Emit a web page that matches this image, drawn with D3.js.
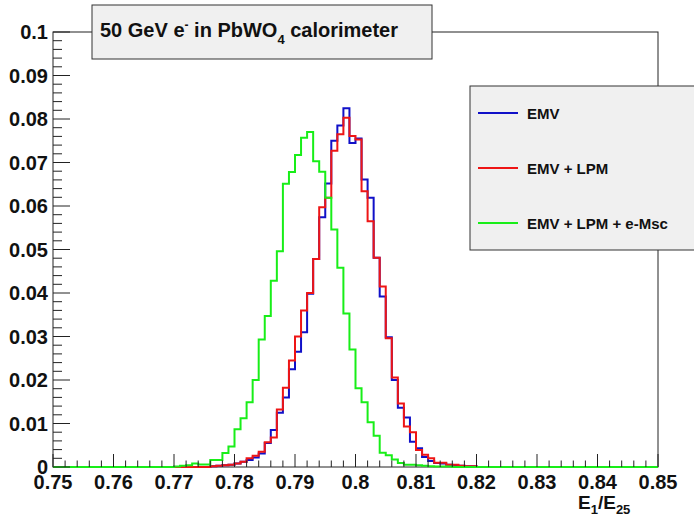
<!DOCTYPE html>
<html>
<head>
<meta charset="utf-8">
<script src="https://cdn.jsdelivr.net/npm/d3@7"></script>
<style>
  html, body { margin: 0; padding: 0; background: #fff; }
  svg { display: block; font-family: "Liberation Sans", Arial, Helvetica, sans-serif; }
</style>
</head>
<body>
<svg id="chart" width="694" height="520"></svg>
<script>
// ---- data ----
const binStart = 0.75;
const binWidth = 0.001;
const seriesNames = ["EMV", "EMV + LPM", "EMV + LPM + e-Msc"];
const seriesColors = ["#1010c8", "#ee1515", "#18ee18"];

const emv = [
  0,0,0,0,0,0,0,0,0,0,
  0,0,0,0,0,0,0,0,0,0,
  0,0,0,0,0,0,0.0002,0.0003,0.0004,0.0005,
  0.0008,0.0012,0.0016,0.0022,0.0031,0.0055,0.0085,0.0125,0.0160,0.0225,
  0.0265,0.0310,0.0398,0.0478,0.0574,0.0652,0.0750,0.0785,0.0825,0.0745,
  0.0755,0.0661,0.0619,0.0481,0.0392,0.0298,0.0200,0.0136,0.0114,0.0058,
  0.0043,0.0023,0.0014,0.0009,0.0008,0.0005,0.0004,0.0003,0.0002,0.0002,
  0,0,0,0,0,0,0,0,0,0,
  0,0,0,0,0,0,0,0,0,0,
  0,0,0,0,0,0,0,0,0,0
];
const emvLpm = [
  0,0,0,0,0,0,0,0,0,0,
  0,0,0,0,0,0,0,0,0,0,
  0,0,0,0,0,0,0.0002,0.0003,0.0004,0.0005,
  0.0008,0.0012,0.0020,0.0026,0.0035,0.0057,0.0068,0.0132,0.0182,0.0245,
  0.0300,0.0360,0.0400,0.0478,0.0597,0.0619,0.0727,0.0765,0.0803,0.0761,
  0.0753,0.0634,0.0565,0.0481,0.0415,0.0296,0.0206,0.0146,0.0093,0.0080,
  0.0039,0.0028,0.0020,0.0010,0.0010,0.0005,0.0005,0.0003,0.0002,0.0002,
  0,0,0,0,0,0,0,0,0,0,
  0,0,0,0,0,0,0,0,0,0,
  0,0,0,0,0,0,0,0,0,0
];
const emvLpmMsc = [
  0,0,0,0,0,0,0,0,0,0,
  0,0,0,0,0,0,0,0,0,0,
  0.0001,0.0003,0.0004,0.0008,0.0006,0.0006,0.0016,0.0016,0.0032,0.0047,
  0.0087,0.0112,0.0149,0.0200,0.0293,0.0347,0.0428,0.0496,0.0651,0.0678,
  0.0717,0.0757,0.0770,0.0703,0.0679,0.0619,0.0546,0.0458,0.0353,0.0270,
  0.0181,0.0149,0.0103,0.0072,0.0033,0.0027,0.0017,0.0009,0.0005,0.0005,
  0.0004,0.0003,0.0002,0.0001,0.0001,0.0001,0,0,0,0,
  0,0,0,0,0,0,0,0,0,0,
  0,0,0,0,0,0,0,0,0,0,
  0,0,0,0,0,0,0,0,0,0
];
const xTickValues = [0.75,0.76,0.77,0.78,0.79,0.80,0.81,0.82,0.83,0.84,0.85];
const xTickLabels = ["0.75","0.76","0.77","0.78","0.79","0.8","0.81","0.82","0.83","0.84","0.85"];
const yTickValues = [0,0.01,0.02,0.03,0.04,0.05,0.06,0.07,0.08,0.09,0.1];
const yTickLabels = ["0","0.01","0.02","0.03","0.04","0.05","0.06","0.07","0.08","0.09","0.1"];

// ---- layout ----
const svg = d3.select("#chart");
const L = 53, R = 658, T = 32, B = 467;
const x = d3.scaleLinear().domain([0.75, 0.85]).range([L, R]);
const y = d3.scaleLinear().domain([0, 0.1]).range([B, T]);

// frame
svg.append("rect").attr("x", L).attr("y", T).attr("width", R - L).attr("height", B - T)
  .attr("fill", "#fff").attr("stroke", "#222").attr("stroke-width", 1);

// histograms
function histPoints(vals) {
  const pts = [[x(binStart), y(0)]];
  vals.forEach((v, i) => {
    const x0 = binStart + i * binWidth, x1 = x0 + binWidth;
    pts.push([x(x0), y(v)], [x(x1), y(v)]);
  });
  pts.push([x(binStart + vals.length * binWidth), y(0)]);
  return pts;
}
const line = d3.line();
[emv, emvLpm, emvLpmMsc].forEach((vals, k) => {
  svg.append("path").attr("d", line(histPoints(vals)))
    .attr("fill", "none").attr("stroke", seriesColors[k]).attr("stroke-width", 2)
    .attr("stroke-linejoin", "miter");
});

// y axis (ticks inside)
const yg = svg.append("g").attr("transform", `translate(${L},0)`);
yg.selectAll("line.t").data(d3.range(0, 51)).join("line")
  .attr("x1", 0).attr("x2", d => d % 5 === 0 ? 17 : 9)
  .attr("y1", d => y(d * 0.002)).attr("y2", d => y(d * 0.002))
  .attr("stroke", "#222").attr("stroke-width", 1);
yg.selectAll("text").data(yTickValues).join("text")
  .attr("x", -5).attr("y", d => y(d) + 7)
  .attr("text-anchor", "end").attr("font-weight", "bold").attr("font-size", 20)
  .attr("fill", "#111")
  .text((d, i) => yTickLabels[i]);

// x axis (ticks inside)
const xg = svg.append("g").attr("transform", `translate(0,${B})`);
xg.selectAll("line.t").data(d3.range(0, 51)).join("line")
  .attr("y1", 0).attr("y2", d => d % 5 === 0 ? -13 : -6.5)
  .attr("x1", d => x(0.75 + d * 0.002)).attr("x2", d => x(0.75 + d * 0.002))
  .attr("stroke", "#222").attr("stroke-width", 1);
xg.selectAll("text").data(xTickValues).join("text")
  .attr("x", d => x(d)).attr("y", 22)
  .attr("text-anchor", "middle").attr("font-weight", "bold").attr("font-size", 20)
  .attr("fill", "#111")
  .text((d, i) => xTickLabels[i]);

// x axis title
const xt = svg.append("text").attr("x", 578).attr("y", 509)
  .attr("font-weight", "bold").attr("font-size", 19).attr("fill", "#111");
xt.append("tspan").text("E");
xt.append("tspan").attr("dy", 5).attr("font-size", 13).text("1");
xt.append("tspan").attr("dy", -5).text("/E");
xt.append("tspan").attr("dy", 5).attr("font-size", 13).text("25");

// title box
svg.append("rect").attr("x", 92).attr("y", 5).attr("width", 340).attr("height", 54)
  .attr("fill", "#f0f0f0").attr("stroke", "#333").attr("stroke-width", 1);
const tt = svg.append("text").attr("x", 100).attr("y", 37)
  .attr("font-weight", "bold").attr("font-size", 20).attr("fill", "#111");
tt.append("tspan").text("50 GeV e");
tt.append("tspan").attr("dy", -8).attr("font-size", 12).text("-");
tt.append("tspan").attr("dy", 8).text(" in PbWO");
tt.append("tspan").attr("dy", 7).attr("font-size", 13).text("4");
tt.append("tspan").attr("dy", -7).text(" calorimeter");

// legend
svg.append("rect").attr("x", 470).attr("y", 86).attr("width", 240).attr("height", 164)
  .attr("fill", "#f0f0f0").attr("stroke", "#333").attr("stroke-width", 1);
const legY = [113, 168, 223];
seriesNames.forEach((name, k) => {
  svg.append("line").attr("x1", 478).attr("x2", 518).attr("y1", legY[k]).attr("y2", legY[k])
    .attr("stroke", seriesColors[k]).attr("stroke-width", 2);
  svg.append("text").attr("x", 527).attr("y", legY[k] + 5.5)
    .attr("font-weight", "bold").attr("font-size", 15).attr("fill", "#111").text(name);
});
</script>
</body>
</html>
